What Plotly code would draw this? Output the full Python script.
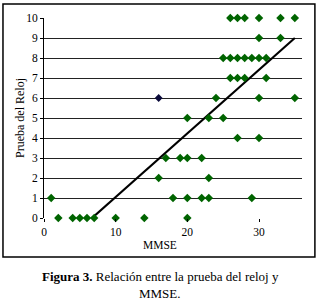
import plotly.graph_objects as go

# MMSE (x) values for each clock-test score (y)
mmse_by_score = {
    0: [2, 4, 5, 6, 7, 10, 14, 20],
    1: [1, 18, 20, 22, 23, 29],
    2: [16, 23],
    3: [17, 19, 20, 22],
    4: [27, 30],
    5: [20, 23, 25],
    6: [24, 30, 35],
    7: [26, 27, 28, 31],
    8: [25, 26, 27, 28, 29, 30, 31],
    9: [30, 33],
    10: [26, 27, 28, 30, 33, 35],
}
highlight_x = [16]
highlight_y = [6]

trend_slope = 0.318
trend_intercept = -2.13
trend_x = [6.7, 35]

x_ticks = [0, 10, 20, 30]
y_ticks = list(range(0, 11))

xs, ys = [], []
for score, vals in mmse_by_score.items():
    for v in vals:
        xs.append(v)
        ys.append(score)

trend_y = [trend_slope * x + trend_intercept for x in trend_x]

serif = "Times New Roman, Liberation Serif, serif"

fig = go.Figure()
fig.add_trace(go.Scatter(x=trend_x, y=trend_y, mode="lines",
                         line=dict(color="black", width=2.2), hoverinfo="skip"))
fig.add_trace(go.Scatter(x=xs, y=ys, mode="markers", cliponaxis=False,
                         marker=dict(symbol="diamond", size=6.5, color="#006400",
                                     line=dict(width=0))))
fig.add_trace(go.Scatter(x=highlight_x, y=highlight_y, mode="markers", cliponaxis=False,
                         marker=dict(symbol="diamond", size=6, color="#0a0a3a",
                                     line=dict(width=0))))

fig.update_layout(
    width=320, height=304,
    margin=dict(l=44, r=18, t=18, b=86),
    paper_bgcolor="white", plot_bgcolor="white",
    showlegend=False,
    font=dict(family=serif, color="black", size=11),
    xaxis=dict(range=[0, 36], tickvals=x_ticks, showgrid=False, zeroline=False,
               ticks="outside", ticklen=3, tickcolor="black", showline=False,
               automargin=False, tickfont=dict(family=serif, size=11.5)),
    yaxis=dict(range=[0, 10], tickvals=y_ticks, showgrid=True, gridcolor="#222222",
               gridwidth=1, zeroline=False, showline=True, linecolor="black",
               linewidth=1, ticks="outside", ticklen=3, tickcolor="black",
               automargin=False, tickfont=dict(family=serif, size=11.5)),
    shapes=[dict(type="rect", xref="paper", yref="paper",
                 x0=-0.159, x1=1.050, y0=-0.195, y1=1.07,
                 line=dict(color="black", width=1.5), fillcolor="rgba(0,0,0,0)")],
    annotations=[
        dict(text="MMSE", xref="paper", yref="paper", x=0.45, y=-0.135,
             xanchor="center", yanchor="middle",
             showarrow=False, font=dict(family=serif, size=11.5)),
        dict(text="Prueba del Reloj", xref="paper", yref="paper", x=-0.093, y=0.5,
             xanchor="center", yanchor="middle",
             textangle=-90, showarrow=False, font=dict(family=serif, size=12)),
        dict(text="<b>Figura 3.</b> Relación entre la prueba del reloj y",
             xref="paper", yref="paper", x=0.45, y=-0.29, xanchor="center", yanchor="middle",
             showarrow=False, font=dict(family=serif, size=13)),
        dict(text="MMSE.",
             xref="paper", yref="paper", x=0.45, y=-0.375, xanchor="center", yanchor="middle",
             showarrow=False, font=dict(family=serif, size=13)),
    ],
)

fig.write_html("out.html", config={"displayModeBar": False},
               post_script="document.body.style.margin='0';")
